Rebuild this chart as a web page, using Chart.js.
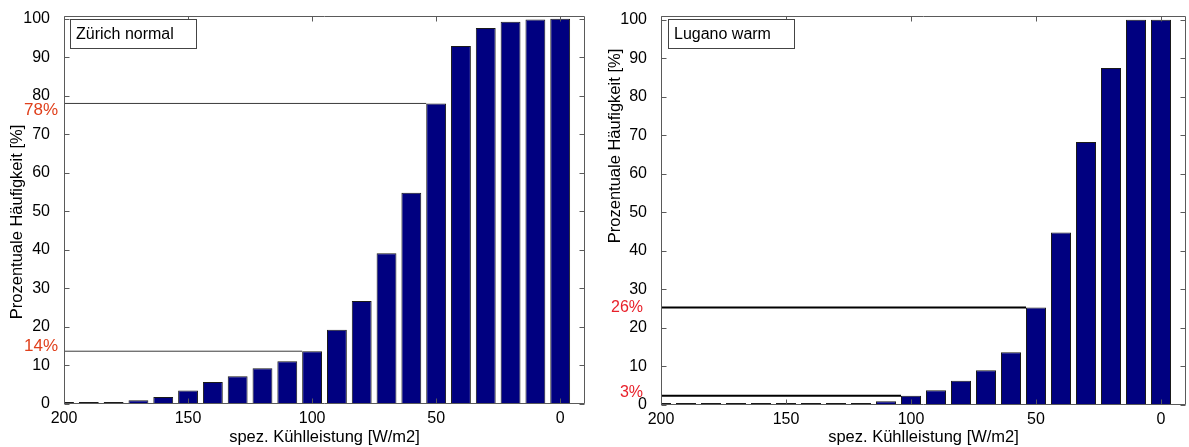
<!DOCTYPE html>
<html>
<head>
<meta charset="utf-8">
<script src="https://cdn.jsdelivr.net/npm/chart.js@4.4.0/dist/chart.umd.min.js"></script>
<style>
    body { margin: 0; background: #fff; width: 1189px; height: 447px; overflow: hidden; position: relative; }
    .panel { position: absolute; top: 0; height: 447px; }
</style>
</head>
<body>
<div class="panel" style="left:0;width:594px"><canvas id="chartZurich"></canvas></div>
<div class="panel" style="left:594px;width:595px"><canvas id="chartLugano"></canvas></div>
<script>
// bar positions (spez. Kühlleistung, W/m2)
const xValues = [200, 190, 180, 170, 160, 150, 140, 130, 120, 110, 100, 90, 80, 70, 60, 50, 40, 30, 20, 10, 0];

// cumulative share in percent
const zurichValues = [0.1, 0.1, 0.4, 1.0, 1.8, 3.5, 5.7, 7.2, 9.3, 11.1, 13.7, 19.3, 26.7, 39.1, 54.8, 78.0, 92.9, 97.6, 99.2, 99.8, 100];
const luganoValues = [0.05, 0.05, 0.05, 0.05, 0.05, 0.05, 0.05, 0.1, 0.4, 1.0, 2.4, 3.8, 6.3, 9.0, 13.7, 25.3, 44.8, 68.3, 87.5, 100, 100];

// marked levels: value, bar it runs to, text
const zurichLevels = [78.0, 13.7];
const zurichLevelBars = [50, 100];
const zurichLevelLabels = ['78%', '14%'];
const luganoLevels = [25.3, 2.4];
const luganoLevelBars = [50, 100];
const luganoLevelLabels = ['26%', '3%'];

const xTicks = [200, 150, 100, 50, 0];
const yTicks = [0, 10, 20, 30, 40, 50, 60, 70, 80, 90, 100];

const xTitle = 'spez. Kühlleistung [W/m2]';
const yTitle = 'Prozentuale Häufigkeit [%]';

Chart.defaults.font.family = '"Liberation Sans", Arial, sans-serif';
Chart.defaults.font.size = 16;
Chart.defaults.color = '#000';

// matlab style box, inward ticks, titles, level labels, legend box
const matlabAxes = {
    id: 'matlabAxes',
    afterDraw(chart, args, o) {
        const ctx = chart.ctx;
        const a = chart.chartArea;
        const xs = chart.scales.x;
        const ys = chart.scales.y;
        const L = Math.round(a.left) + 0.5, R = Math.round(a.right) - 0.5;
        const T = Math.round(a.top) + 0.5, B = Math.round(a.bottom) - 0.5;
        ctx.save();
        ctx.strokeStyle = '#5a5a5a';
        ctx.lineWidth = 1;
        ctx.beginPath();
        ctx.rect(L, T, R - L, B - T);
        xTicks.forEach(v => {
            const px = Math.round(xs.getPixelForValue(v)) + 0.5;
            ctx.moveTo(px, B); ctx.lineTo(px, B - 5);
            ctx.moveTo(px, T); ctx.lineTo(px, T + 5);
        });
        yTicks.forEach(v => {
            const py = Math.round(ys.getPixelForValue(v)) + 0.5;
            ctx.moveTo(L, py); ctx.lineTo(L + 5, py);
            ctx.moveTo(R, py); ctx.lineTo(R - 5, py);
        });
        ctx.stroke();

        // level labels
        ctx.fillStyle = o.labelColor;
        ctx.font = o.labelFont;
        ctx.textAlign = 'right';
        ctx.textBaseline = 'middle';
        o.levels.forEach((v, i) => {
            ctx.fillText(o.levelLabels[i], a.left - o.labelGap, ys.getPixelForValue(v) + o.labelShift[i]);
        });

        // legend box
        const [bx, by, bw, bh] = o.legendBox;
        ctx.fillStyle = '#fff';
        ctx.fillRect(bx, by, bw, bh);
        ctx.strokeStyle = '#444';
        ctx.strokeRect(bx + 0.5, by + 0.5, bw, bh);
        ctx.fillStyle = '#000';
        ctx.font = '16px "Liberation Sans", Arial, sans-serif';
        ctx.textAlign = 'left';
        ctx.fillText(o.legend, bx + 6, by + bh / 2 + 1);

        // axis titles
        ctx.font = '16.5px "Liberation Sans", Arial, sans-serif';
        ctx.textAlign = 'center';
        ctx.fillText(xTitle, (a.left + a.right) / 2, 437);
        ctx.translate(o.yTitleAt[0], o.yTitleAt[1]);
        ctx.rotate(-Math.PI / 2);
        ctx.fillText(yTitle, 0, 0);
        ctx.restore();
    }
};

function makeChart(id, values, levels, levelBars, levelLabels, look) {
    const bars = xValues.map((x, i) => ({ x: x, y: values[i] }));
    const datasets = [{
        type: 'bar',
        data: bars,
        backgroundColor: '#000080',
        borderColor: '#1a1a1a',
        borderWidth: 1,
        minBarLength: 2,
        barPercentage: 0.8,
        categoryPercentage: 1.0,
        order: 2
    }];
    levels.forEach((v, i) => {
        datasets.push({
            type: 'line',
            data: [{ x: 200, y: v }, { x: levelBars[i] + 4, y: v }],
            borderColor: look.refColor,
            borderWidth: look.refWidth,
            pointRadius: 0,
            order: 1
        });
    });

    return new Chart(document.getElementById(id), {
        data: { datasets: datasets },
        options: {
            responsive: true,
            maintainAspectRatio: false,
            animation: false,
            layout: { padding: { top: look.padTop, right: look.padRight, left: 0, bottom: 0 } },
            plugins: {
                legend: { display: false },
                tooltip: { enabled: false },
                matlabAxes: {
                    labelColor: look.labelColor,
                    labelFont: look.labelFont,
                    labelGap: look.labelGap,
                    labelShift: look.labelShift,
                    levels: levels,
                    levelLabels: levelLabels,
                    legend: look.legend,
                    legendBox: look.legendBox,
                    yTitleAt: look.yTitleAt
                }
            },
            scales: {
                x: {
                    type: 'linear',
                    reverse: true,
                    min: -10,
                    max: 200,
                    offset: false,
                    grid: { display: false },
                    border: { display: false },
                    ticks: { padding: -3, maxRotation: 0, autoSkip: false },
                    afterBuildTicks: s => { s.ticks = xTicks.map(v => ({ value: v })); },
                    afterFit: s => { s.height = look.xHeight; }
                },
                y: {
                    min: 0,
                    max: look.yMax,
                    grid: { display: false },
                    border: { display: false },
                    ticks: { padding: 6 },
                    afterBuildTicks: s => { s.ticks = yTicks.map(v => ({ value: v })); },
                    afterFit: s => { s.width = look.yWidth; }
                }
            }
        },
        plugins: [matlabAxes]
    });
}

makeChart('chartZurich', zurichValues, zurichLevels, zurichLevelBars, zurichLevelLabels, {
    padTop: 13, padRight: 9, yWidth: 64, xHeight: 43, yMax: 100.8,
    refColor: '#3a3a3a', refWidth: 1,
    labelColor: '#e0401c', labelFont: '17px "Liberation Sans", Arial, sans-serif',
    labelGap: 6, labelShift: [7, -5],
    legend: 'Zürich normal', legendBox: [70, 19, 126, 29],
    yTitleAt: [17, 222]
});

makeChart('chartLugano', luganoValues, luganoLevels, luganoLevelBars, luganoLevelLabels, {
    padTop: 11, padRight: 3, yWidth: 67, xHeight: 42, yMax: 101.1,
    refColor: '#000', refWidth: 2,
    labelColor: '#e8202a', labelFont: '16px "Liberation Sans", Arial, sans-serif',
    labelGap: 18, labelShift: [0, -3],
    legend: 'Lugano warm', legendBox: [74, 19, 126, 29],
    yTitleAt: [21, 146]
});
</script>
</body>
</html>
